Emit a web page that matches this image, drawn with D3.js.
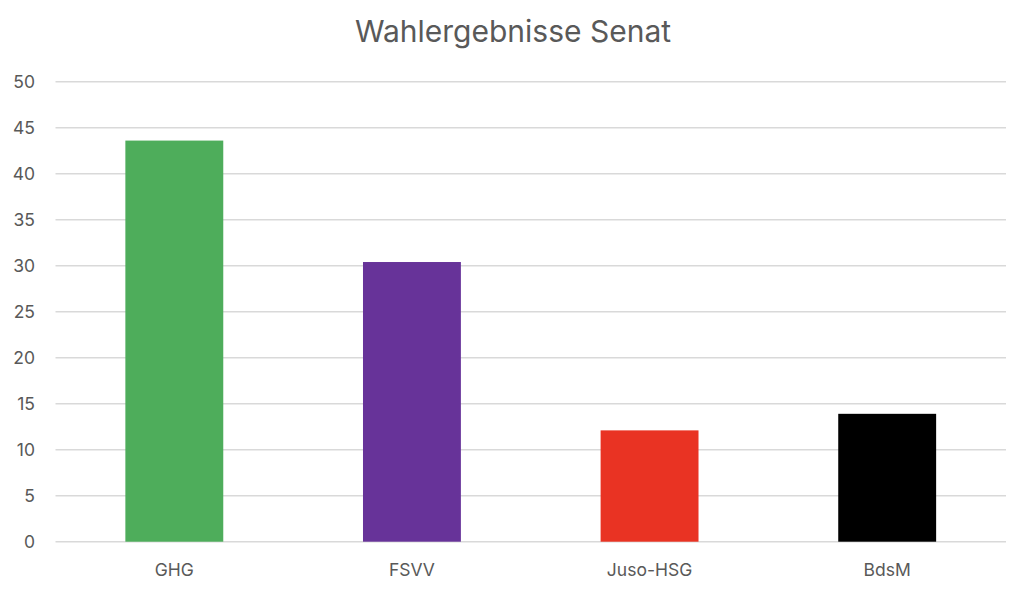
<!DOCTYPE html>
<html>
<head>
<meta charset="utf-8">
<script src="https://cdn.jsdelivr.net/npm/d3@7"></script>
<style>
body { margin: 0; background: #fff; }
svg { display: block; }
text { font-family: Inter, "Open Sans", sans-serif; fill: #595959; }
</style>
</head>
<body>
<svg id="chart" width="1024" height="590"></svg>
<script>
const categories = ["GHG", "FSVV", "Juso-HSG", "BdsM"];
const values = [43.6, 30.4, 12.1, 13.9];
const barColors = ["#4EAD5B", "#673399", "#E93323", "#000000"];
const yTicks = [0, 5, 10, 15, 20, 25, 30, 35, 40, 45, 50];
const title = "Wahlergebnisse Senat";

const svg = d3.select("#chart");
const margin = { left: 55.5, right: 18, top: 81.7, bottom: 48.3 };
const W = 1024, H = 590;

const x = d3.scaleBand().domain(categories)
  .range([margin.left, W - margin.right])
  .paddingInner(0.588).paddingOuter(0.294);
const y = d3.scaleLinear().domain([0, 50]).range([H - margin.bottom, margin.top]);

// gridlines
svg.append("g")
  .selectAll("line").data(yTicks).join("line")
  .attr("x1", margin.left).attr("x2", W - margin.right)
  .attr("y1", d => y(d)).attr("y2", d => y(d))
  .attr("stroke", "#d9d9d9").attr("stroke-width", 1.6);

// y labels
svg.append("g")
  .selectAll("text").data(yTicks).join("text")
  .attr("x", 35).attr("y", d => y(d)).attr("dy", "0.36em")
  .attr("text-anchor", "end").attr("font-size", 17.5)
  .text(d => d);

// bars
svg.append("g")
  .selectAll("rect").data(categories).join("rect")
  .attr("x", d => x(d)).attr("width", x.bandwidth())
  .attr("y", (d, i) => y(values[i]))
  .attr("height", (d, i) => y(0) - y(values[i]))
  .attr("fill", (d, i) => barColors[i]);

// x labels
svg.append("g")
  .selectAll("text").data(categories).join("text")
  .attr("x", d => x(d) + x.bandwidth() / 2).attr("y", 576)
  .attr("text-anchor", "middle").attr("font-size", 17.5)
  .text(d => d);

// title
svg.append("text")
  .attr("x", 513).attr("y", 42)
  .attr("text-anchor", "middle").attr("font-size", 30)
  .text(title);
</script>
</body>
</html>
